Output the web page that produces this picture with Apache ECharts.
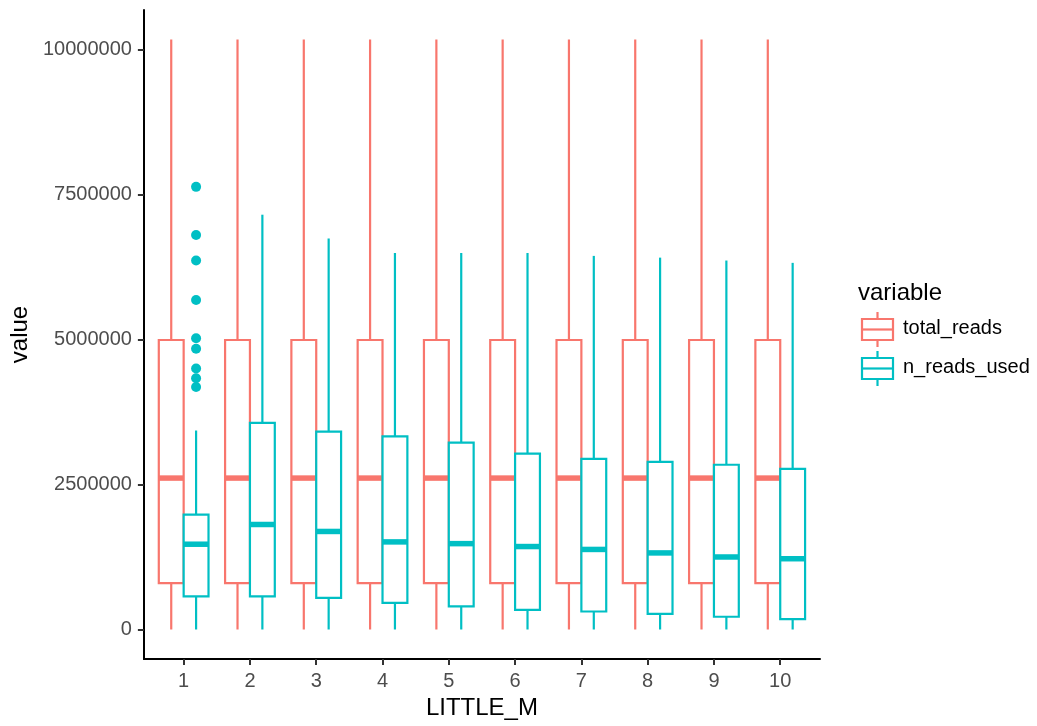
<!DOCTYPE html>
<html>
<head>
<meta charset="utf-8">
<script src="https://cdn.jsdelivr.net/npm/echarts@6/dist/echarts.min.js"></script>
<style>
  html, body { margin: 0; padding: 0; background: #ffffff; }
  #chart { width: 1037px; height: 726px; }
</style>
</head>
<body>
<div id="chart"></div>
<script>
// LITTLE_M values on the x axis
const categories = [1, 2, 3, 4, 5, 6, 7, 8, 9, 10];
const seriesNames = ['total_reads', 'n_reads_used'];

// Five-number summaries per LITTLE_M: [lower whisker, Q1, median, Q3, upper whisker]
const totalReadsStats = [
  [0, 800000, 2610000, 4990000, 10170000],
  [0, 800000, 2610000, 4990000, 10170000],
  [0, 800000, 2610000, 4990000, 10170000],
  [0, 800000, 2610000, 4990000, 10170000],
  [0, 800000, 2610000, 4990000, 10170000],
  [0, 800000, 2610000, 4990000, 10170000],
  [0, 800000, 2610000, 4990000, 10170000],
  [0, 800000, 2610000, 4990000, 10170000],
  [0, 800000, 2610000, 4990000, 10170000],
  [0, 800000, 2610000, 4990000, 10170000]
];
const nReadsUsedStats = [
  [0, 570000, 1470000, 1980000, 3430000],
  [0, 570000, 1810000, 3560000, 7150000],
  [0, 545000, 1690000, 3410000, 6740000],
  [0, 460000, 1510000, 3330000, 6490000],
  [0, 400000, 1480000, 3220000, 6490000],
  [0, 340000, 1430000, 3030000, 6490000],
  [0, 310000, 1380000, 2940000, 6440000],
  [0, 270000, 1320000, 2890000, 6410000],
  [0, 220000, 1250000, 2840000, 6360000],
  [0, 180000, 1220000, 2770000, 6320000]
];
// Outlying n_reads_used values at LITTLE_M = 1
const nReadsUsedOutliers = [7630000, 6800000, 6360000, 5680000, 5020000, 4840000, 4500000, 4330000, 4180000];
const outlierCategory = 1;

// y axis tick values
const yTicks = [0, 2500000, 5000000, 7500000, 10000000];

const colors = ['#F8766D', '#00BFC4'];
const FONT = '"Liberation Sans", Arial, Helvetica, sans-serif';
const dodgeWidth = 0.75;
const boxWidth = dodgeWidth / 2;
const offsets = [-boxWidth / 2, boxWidth / 2];

function toRows(stats) {
  return stats.map((s, i) => [categories[i]].concat(s));
}

function boxRenderer(color, offset) {
  return function (params, api) {
    const x = api.value(0) + offset;
    const pMin = api.coord([x, api.value(1)]);
    const pQ1 = api.coord([x, api.value(2)]);
    const pMed = api.coord([x, api.value(3)]);
    const pQ3 = api.coord([x, api.value(4)]);
    const pMax = api.coord([x, api.value(5)]);
    const half = api.size([boxWidth, 0])[0] / 2;
    const cx = pMed[0];
    const lw = 2.2;
    return {
      type: 'group',
      children: [
        { type: 'line', shape: { x1: cx, y1: pMax[1], x2: cx, y2: pQ3[1] }, style: { stroke: color, lineWidth: lw } },
        { type: 'line', shape: { x1: cx, y1: pQ1[1], x2: cx, y2: pMin[1] }, style: { stroke: color, lineWidth: lw } },
        { type: 'rect', shape: { x: cx - half, y: pQ3[1], width: half * 2, height: pQ1[1] - pQ3[1] },
          style: { fill: '#ffffff', stroke: color, lineWidth: lw } },
        { type: 'line', shape: { x1: cx - half, y1: pMed[1], x2: cx + half, y2: pMed[1] },
          style: { stroke: color, lineWidth: 5.5 } }
      ]
    };
  };
}

// legend glyph: box with whisker stubs and a median bar
function legendKey(cx, cy, color) {
  const w = 31, h = 21, stub = 7;
  return [
    { type: 'line', shape: { x1: cx, y1: cy - h / 2 - stub, x2: cx, y2: cy - h / 2 }, style: { stroke: color, lineWidth: 2.2 } },
    { type: 'line', shape: { x1: cx, y1: cy + h / 2, x2: cx, y2: cy + h / 2 + stub }, style: { stroke: color, lineWidth: 2.2 } },
    { type: 'rect', shape: { x: cx - w / 2, y: cy - h / 2, width: w, height: h }, style: { fill: '#fff', stroke: color, lineWidth: 2.2 } },
    { type: 'line', shape: { x1: cx - w / 2, y1: cy, x2: cx + w / 2, y2: cy }, style: { stroke: color, lineWidth: 2.2 } }
  ];
}

const chart = echarts.init(document.getElementById('chart'), null, { renderer: 'canvas' });

const option = {
  backgroundColor: '#ffffff',
  animation: false,
  textStyle: { fontFamily: FONT },
  grid: { left: 141, right: 217, top: 10, bottom: 67 },
  xAxis: {
    type: 'value',
    min: 0.4,
    max: 10.6,
    name: 'LITTLE_M',
    nameLocation: 'middle',
    nameGap: 37,
    nameTextStyle: { fontSize: 24, color: '#000', fontFamily: FONT },
    axisLine: { onZero: false, lineStyle: { color: '#000', width: 2 } },
    axisTick: { customValues: categories, length: 6, lineStyle: { color: '#333', width: 2 } },
    axisLabel: { customValues: categories, fontSize: 20, color: '#4D4D4D', margin: 12, fontFamily: FONT,
      formatter: v => String(v) },
    splitLine: { show: false }
  },
  yAxis: {
    type: 'value',
    min: -508500,
    max: 10678500,
    name: 'value',
    nameLocation: 'middle',
    nameGap: 110,
    nameRotate: 90,
    nameTextStyle: { fontSize: 24, color: '#000', fontFamily: FONT },
    axisLine: { show: true, onZero: false, lineStyle: { color: '#000', width: 2 } },
    axisTick: { show: true, customValues: yTicks, length: 6, lineStyle: { color: '#333', width: 2 } },
    axisLabel: { customValues: yTicks, fontSize: 20, color: '#4D4D4D', margin: 12, fontFamily: FONT,
      formatter: v => String(v) },
    splitLine: { show: false }
  },
  series: [
    {
      name: seriesNames[0],
      type: 'custom',
      renderItem: boxRenderer(colors[0], offsets[0]),
      encode: { x: 0, y: [1, 2, 3, 4, 5] },
      data: toRows(totalReadsStats),
      z: 2
    },
    {
      name: seriesNames[1],
      type: 'custom',
      renderItem: boxRenderer(colors[1], offsets[1]),
      encode: { x: 0, y: [1, 2, 3, 4, 5] },
      data: toRows(nReadsUsedStats),
      z: 3
    },
    {
      name: seriesNames[1] + ' outliers',
      type: 'scatter',
      symbol: 'circle',
      symbolSize: 10,
      itemStyle: { color: colors[1], opacity: 1 },
      data: nReadsUsedOutliers.map(v => [outlierCategory + offsets[1], v]),
      z: 4
    }
  ],
  graphic: [
    { type: 'text', left: 858, top: 281, style: { text: 'variable', font: '24px ' + FONT, fill: '#000' } },
    ...legendKey(877.5, 329.5, colors[0]),
    ...legendKey(877.5, 368.5, colors[1]),
    { type: 'text', left: 903, top: 318, style: { text: seriesNames[0], font: '20px ' + FONT, fill: '#000' } },
    { type: 'text', left: 903, top: 357, style: { text: seriesNames[1], font: '20px ' + FONT, fill: '#000' } }
  ]
};

chart.setOption(option);
</script>
</body>
</html>
